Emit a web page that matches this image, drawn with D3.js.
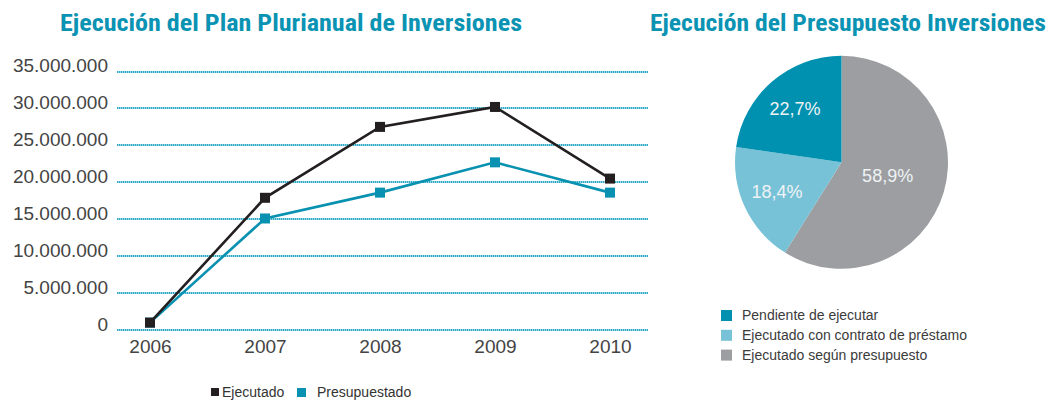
<!DOCTYPE html>
<html>
<head>
<meta charset="utf-8">
<script src="https://cdn.jsdelivr.net/npm/d3@7"></script>
<style>
  body { margin: 0; background: #fff; }
  svg text { font-family: "Liberation Sans", Arial, sans-serif; }
</style>
</head>
<body>
<div id="chart"></div>
<script>
// datos del gráfico de líneas
const years = ["2006", "2007", "2008", "2009", "2010"];
const ejecutado = [1.0e6, 17.9e6, 27.5e6, 30.2e6, 20.5e6];
const presupuestado = [1.0e6, 15.1e6, 18.6e6, 22.7e6, 18.6e6];
const yTicks = [0, 5e6, 10e6, 15e6, 20e6, 25e6, 30e6, 35e6];
const lineSeries = ["Ejecutado", "Presupuestado"];

// datos del gráfico circular
const pieLabels = ["Pendiente de ejecutar", "Ejecutado con contrato de préstamo", "Ejecutado según presupuesto"];
const pieValues = [22.7, 18.4, 58.9];

const teal = "#0891b0";
const pieColors = ["#0090b0", "#78c2d7", "#9d9ea1"];

const width = 1051, height = 400;
const svg = d3.select("#chart").append("svg")
    .attr("width", width)
    .attr("height", height);

// títulos
const titleFont = '"Liberation Sans Narrow", "Roboto Condensed", "Liberation Sans", Arial, sans-serif';
svg.append("text")
    .attr("x", 60).attr("y", 31)
    .attr("textLength", 462).attr("lengthAdjust", "spacingAndGlyphs")
    .style("font-family", titleFont)
    .style("font-size", "23px").style("font-weight", "bold")
    .attr("fill", "#0a93b3")
    .text("Ejecución del Plan Plurianual de Inversiones");

svg.append("text")
    .attr("x", 650).attr("y", 31)
    .attr("textLength", 396).attr("lengthAdjust", "spacingAndGlyphs")
    .style("font-family", titleFont)
    .style("font-size", "23px").style("font-weight", "bold")
    .attr("fill", "#0a93b3")
    .text("Ejecución del Presupuesto Inversiones");

// escalas
const x = d3.scalePoint().domain(years).range([150, 610]);
const y = d3.scaleLinear().domain([0, 35e6]).range([330, 71.5]);
const fmt = v => d3.format(",")(v).replace(/,/g, ".");

// líneas de cuadrícula punteadas
svg.append("g")
    .selectAll("line")
    .data(yTicks)
    .join("line")
    .attr("x1", 117).attr("x2", 648)
    .attr("y1", d => Math.round(y(d))).attr("y2", d => Math.round(y(d)))
    .attr("stroke", "#2eaac7")
    .attr("stroke-width", 2)
    .attr("stroke-dasharray", "1.5,0.5");

// eje Y
const yAxis = svg.append("g")
    .attr("transform", "translate(108,0)")
    .call(d3.axisLeft(y).tickValues(yTicks).tickFormat(fmt).tickSize(0).tickPadding(0));
yAxis.select(".domain").remove();
yAxis.selectAll("text")
    .attr("dy", "0")
    .attr("fill", "#444")
    .style("font-size", "19px");

// eje X
const xAxis = svg.append("g")
    .attr("transform", "translate(0,353)")
    .call(d3.axisBottom(x).tickSize(0).tickPadding(0));
xAxis.select(".domain").remove();
xAxis.selectAll("text")
    .attr("dy", "0").attr("y", 0)
    .attr("fill", "#444")
    .style("font-size", "19px");

// series
const series = [
    { name: lineSeries[1], values: presupuestado, color: teal },
    { name: lineSeries[0], values: ejecutado, color: "#231f20" }
];
const line = d3.line()
    .x((d, i) => x(years[i]))
    .y(d => y(d));

series.forEach(s => {
    svg.append("path")
        .datum(s.values)
        .attr("fill", "none")
        .attr("stroke", s.color)
        .attr("stroke-width", 2.6)
        .attr("d", line);
    svg.append("g")
        .selectAll("rect")
        .data(s.values)
        .join("rect")
        .attr("x", (d, i) => x(years[i]) - 5)
        .attr("y", d => y(d) - 5)
        .attr("width", 10).attr("height", 10)
        .attr("fill", s.color);
});

// leyenda inferior
const bottomLegend = [
    { name: lineSeries[0], color: "#231f20" },
    { name: lineSeries[1], color: teal }
];
const bl = svg.append("g").attr("transform", "translate(211,397)");
bl.append("rect").attr("x", 0).attr("y", -9).attr("width", 8).attr("height", 8).attr("fill", bottomLegend[0].color);
bl.append("text").attr("x", 11).attr("y", 0).attr("fill", "#333").style("font-size", "14px").text(bottomLegend[0].name);
bl.append("rect").attr("x", 86).attr("y", -9).attr("width", 9).attr("height", 9).attr("fill", bottomLegend[1].color);
bl.append("text").attr("x", 106).attr("y", 0).attr("fill", "#333").style("font-size", "14px").text(bottomLegend[1].name);

// gráfico circular
const cx = 841.5, cy = 162.3, r = 106.5;
const pieData = pieValues.map((v, i) => ({ label: pieLabels[i], value: v, color: pieColors[i] })).reverse();
const arcs = d3.pie().sort(null).value(d => d.value)(pieData);
const arc = d3.arc().innerRadius(0).outerRadius(r);

const pg = svg.append("g").attr("transform", `translate(${cx},${cy})`);
pg.selectAll("path")
    .data(arcs)
    .join("path")
    .attr("d", arc)
    .attr("fill", d => d.data.color);

pg.selectAll("text")
    .data(arcs)
    .join("text")
    .attr("transform", d => {
        const lr = d.data.value > 50 ? 48 : 71;
        const c = d3.arc().innerRadius(lr).outerRadius(lr).centroid(d);
        return `translate(${c[0]},${c[1]})`;
    })
    .attr("text-anchor", "middle")
    .attr("dy", "0.35em")
    .attr("fill", "#eef3f5")
    .style("font-size", "18px")
    .text(d => d.data.value.toFixed(1).replace(".", ",") + "%");

// leyenda del gráfico circular
const pl = svg.append("g").attr("transform", "translate(721,320)");
const rows = pl.selectAll("g")
    .data(pieLabels)
    .join("g")
    .attr("transform", (d, i) => `translate(0,${i * 19.8})`);
rows.append("rect")
    .attr("x", 0).attr("y", -10)
    .attr("width", 11).attr("height", 11)
    .attr("fill", (d, i) => pieColors[i]);
rows.append("text")
    .attr("x", 21).attr("y", 0)
    .attr("fill", "#3b3b3b")
    .style("font-size", "14px")
    .text(d => d);
</script>
</body>
</html>
